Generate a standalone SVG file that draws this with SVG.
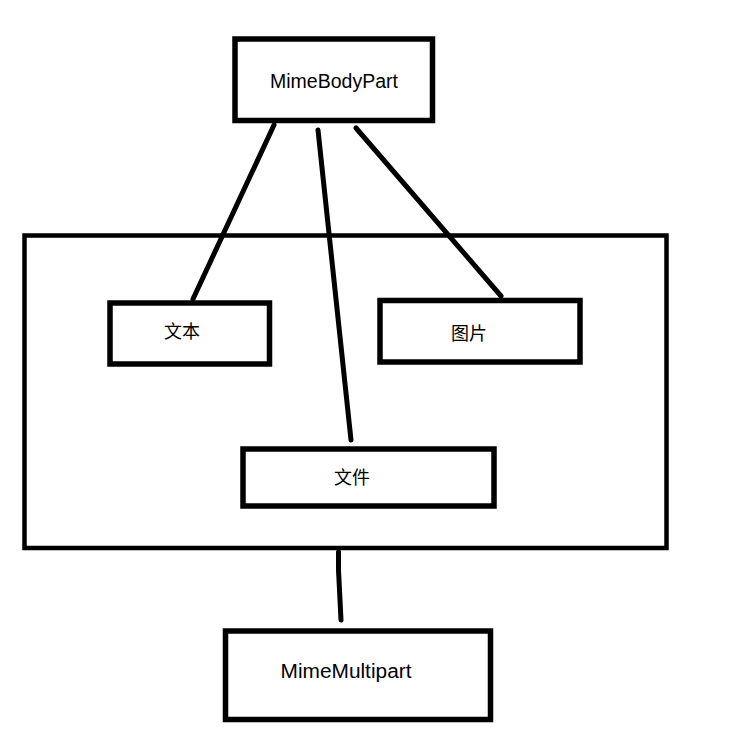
<svg xmlns="http://www.w3.org/2000/svg" width="755" height="732" viewBox="0 0 755 732">
  <style>
    .box { fill: #ffffff; stroke: #000000; stroke-width: 5.5; }
    .frame { fill: none; stroke: #000000; stroke-width: 4.5; }
    .link { stroke: #000000; stroke-width: 5; stroke-linecap: round; fill: none; }
    .lbl { font-family: "Liberation Sans", Arial, sans-serif; font-size: 20px; fill: #000000; text-anchor: middle; }
    .cjk { font-family: "Noto Sans CJK SC", "Noto Sans", sans-serif; font-size: 18px; fill: #000000; text-anchor: middle; }
  </style>
  <rect width="755" height="732" fill="#ffffff"/>

  <!-- container holding the three part types -->
  <g id="container">
    <rect class="frame" x="24.5" y="235.5" width="642" height="312.5"/>
  </g>

  <g id="connectors">
    <line class="link" x1="274" y1="125" x2="193" y2="299"/>
    <line class="link" x1="318" y1="130" x2="351" y2="440"/>
    <line class="link" x1="356" y1="128" x2="501" y2="296"/>
    <polyline class="link" points="338.5,552 338.5,570 341,620"/>
  </g>

  <g id="mimeBodyPart">
    <rect class="box" x="235" y="39" width="197.5" height="81.5"/>
    <text class="lbl" x="334" y="88" textLength="128" lengthAdjust="spacingAndGlyphs">MimeBodyPart</text>
  </g>

  <g id="text">
    <rect class="box" x="110" y="303" width="159.5" height="61"/>
    <text class="cjk" x="182" y="338">文本</text>
  </g>

  <g id="image">
    <rect class="box" x="380" y="300.5" width="200" height="61.5"/>
    <text class="cjk" x="469" y="340">图片</text>
  </g>

  <g id="file">
    <rect class="box" x="243" y="449" width="251" height="57"/>
    <text class="cjk" x="352" y="484">文件</text>
  </g>

  <g id="mimeMultipart">
    <rect class="box" x="225.5" y="631" width="265" height="88.5"/>
    <text class="lbl" x="346" y="678" textLength="131" lengthAdjust="spacingAndGlyphs">MimeMultipart</text>
  </g>
</svg>
